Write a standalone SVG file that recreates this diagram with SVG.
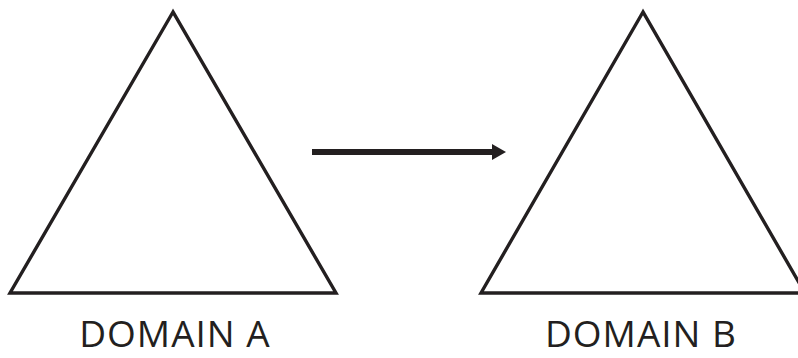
<svg xmlns="http://www.w3.org/2000/svg" width="798" height="358" viewBox="0 0 798 358">
<style>
.tri{fill:none;stroke:#231f20;stroke-width:3.4;stroke-linejoin:miter}
.lbl{font-family:"Open Sans","Noto Sans",sans-serif;font-size:37px;letter-spacing:1px;fill:#231f20;text-anchor:middle}
.conn{stroke:#231f20;stroke-width:6;fill:none}
</style>
<defs>
<marker id="ah" markerUnits="userSpaceOnUse" markerWidth="14" markerHeight="16" refX="0" refY="8" orient="auto" viewBox="0 0 14 16">
<path d="M0,0 L14,8 L0,16 Z" fill="#231f20"/>
</marker>
</defs>
<rect width="798" height="358" fill="#fff"/>
<g id="domainA">
<polygon class="tri" points="173,12 10,293 336,293"/>
<text class="lbl" x="175" y="347">DOMAIN A</text>
</g>
<g id="domainB">
<polygon class="tri" points="643,12 481,293 805,293"/>
<text class="lbl" x="641" y="347">DOMAIN B</text>
</g>
<g id="connectors">
<line class="conn" x1="312" y1="152" x2="492" y2="152" marker-end="url(#ah)"/>
</g>
</svg>
